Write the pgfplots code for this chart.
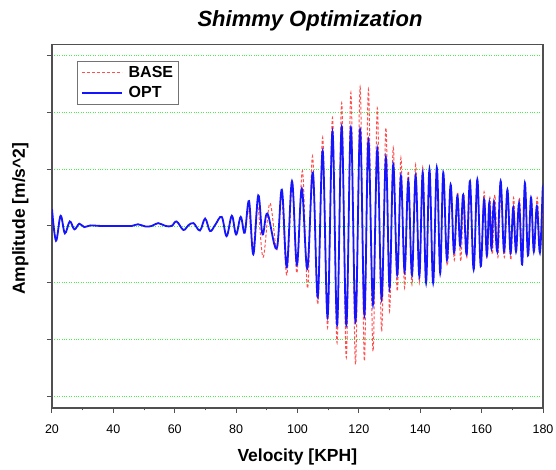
\documentclass[border=0pt]{standalone}
\usepackage{fontspec}
\setmainfont{Liberation Sans}
\usepackage{pgfplots}
\pgfplotsset{compat=1.18}
\definecolor{optblue}{RGB}{20,20,255}
\definecolor{basered}{RGB}{255,80,80}
\definecolor{gridgreen}{RGB}{70,240,70}
\definecolor{framegray}{RGB}{80,80,80}
\begin{document}
\begin{tikzpicture}
\useasboundingbox (-52pt,-62pt) rectangle (504pt,408pt);
\begin{axis}[
  scale only axis, width=491pt, height=363.5pt,
  at={(0pt,0pt)}, anchor=south west,
  xmin=20, xmax=180, ymin=-3.21, ymax=3.2,
  xtick={20,40,...,180}, minor x tick num=1,
  ytick={-3,-2,...,3}, yticklabels={},
  xtick pos=left, ytick pos=left,
  tick align=outside, major tick length=5pt, minor tick length=2.5pt,
  axis line style={framegray, line width=1.3pt},
  every tick/.style={framegray, line width=1pt},
  ymajorgrids, major grid style={gridgreen, dotted, line width=0.9pt},
  /pgf/number format/assume math mode=true,
  xticklabel style={anchor=base, yshift=-20.7pt, font=\fontsize{12.5}{14}\selectfont},
  every axis title shift=0pt,
  title={Shimmy Optimization},
  title style={at={(axis description cs:0.5255,1.0495)}, anchor=base, font=\bfseries\itshape\fontsize{22}{24}\selectfont},
  xlabel={Velocity [KPH]},
  xlabel style={at={(axis description cs:0.4996,-0.1477)}, anchor=base, font=\bfseries\fontsize{17.5}{20}\selectfont},
  ylabel={Amplitude [m/s\textasciicircum 2]},
  ylabel style={at={(axis description cs:-0.0550,0.5208)}, anchor=base, font=\bfseries\fontsize{17.5}{20}\selectfont},
  legend style={at={(0.0515,0.955)}, anchor=north west, draw=framegray!80, line width=1.2pt, fill=white,
    font=\bfseries\fontsize{16}{18}\selectfont, inner xsep=3pt, inner ysep=3pt, row sep=3.5pt, column sep=4pt},
  legend cell align=left,
  legend image code/.code={\draw[#1] (0pt,0pt) -- (40pt,0pt);},
]
% BASE
\addplot[basered, line width=1pt, dash pattern=on 3pt off 2pt, smooth, tension=0.6, forget plot] coordinates {
(20,0.30) (21.3,-0.26) (22.8,0.18) (24.2,-0.13) (25.8,0.08) (27.3,-0.06) (28.9,0.04) (30.5,-0.02)
(32.5,0.01) (36,0) (42,0) (46,0) (48,0.03) (50.5,-0.01) (52.5,0) (54.6,0.05) (57,0) (59,0)
(60.6,0.08) (62.8,-0.07) (64.4,0.01) (66.1,0.05) (68.2,-0.08) (69.9,0.13) (71.5,-0.09) (73.2,0.02)
(75.3,0.16) (76.9,-0.18) (78.6,0.18) (80.0,-0.15) (81.5,0.16) (82.8,-0.12)
(84.0,0.30) (85.5,-0.38) (87.0,0.35) (88.8,-0.55) (91.0,0.40) (93.3,-0.42) (94.8,0.55) (96.5,-0.86)
(98.3,0.75) (99.8,-0.83) (101.6,0.97) (103.3,-1.10) (104.9,1.23) (106.6,-1.38) (108.2,1.56) (109.8,-1.79)
(111.4,1.91) (112.9,-2.06) (114.4,2.17) (115.9,-2.32) (117.4,2.35) (118.9,-2.44) (120.4,2.45) (121.8,-2.38)
(123.1,2.41) (124.6,-2.21) (126.0,2.08) (127.4,-1.86) (128.8,1.73) (130.0,-1.50) (131.2,1.38) (132.5,-1.15)
(133.7,1.20) (134.9,-1.09) (136.1,0.97) (137.3,-1.03) (138.5,1.08) (139.7,-1.00) (140.8,1.03) (141.9,-0.86)
(143.0,0.90) (144.2,-0.90) (145.4,0.85) (146.5,-0.75) (147.6,0.80) (148.8,-0.70) (150.0,0.65) (151.1,-0.60)
(152.2,0.60) (153.2,-0.62) (154.2,0.55) (155.2,-0.55) (156.3,0.60) (157.4,-0.60) (158.6,0.65) (159.7,-0.65)
(160.8,0.60) (161.8,-0.55) (162.7,0.50) (163.5,-0.50) (164.3,0.55) (165.3,-0.55) (166.3,0.60) (167.4,-0.55)
(168.5,0.55) (169.5,-0.60) (170.4,0.50) (171.3,-0.45) (172.3,0.50) (173.3,-0.55) (174.2,0.60) (175.2,-0.50)
(176.2,0.45) (177.1,-0.45) (178.1,0.50) (179.1,-0.40) (180,0.45)
};
% OPT
\addplot[optblue, line width=1.8pt, smooth, tension=0.6, forget plot] coordinates {
(20,0.30) (21.3,-0.26) (22.8,0.18) (24.2,-0.13) (25.8,0.08) (27.3,-0.06) (28.9,0.04) (30.5,-0.02)
(32.5,0.01) (36,0) (42,0) (46,0) (48,0.03) (50.5,-0.01) (52.5,0) (54.6,0.05) (57,0) (59,0)
(60.6,0.08) (62.8,-0.07) (64.4,0.01) (66.1,0.05) (68.2,-0.08) (69.9,0.13) (71.5,-0.09) (73.2,0.02)
(75.3,0.16) (76.9,-0.18) (78.6,0.18) (80.0,-0.15) (81.5,0.16) (82.8,-0.12)
(84.2,0.44) (85.6,-0.50) (87.2,0.54) (88.6,-0.15) (90.2,0.22) (93.2,-0.40) (94.9,0.64) (96.5,-0.72)
(98.2,0.79) (99.8,-0.68) (101.4,0.66) (103.2,-0.75) (105.0,0.94) (106.6,-1.25) (108.2,1.32) (109.8,-1.60)
(111.4,1.66) (112.9,-1.74) (114.4,1.75) (115.9,-1.74) (117.4,1.73) (118.9,-1.68) (120.4,1.70) (121.8,-1.56)
(123.1,1.50) (124.6,-1.38) (126.0,1.35) (127.4,-1.27) (128.8,1.20) (130.0,-1.09) (131.2,1.08) (132.5,-0.86)
(133.7,0.88) (134.9,-0.80) (136.1,0.80) (137.3,-0.86) (138.5,0.88) (139.7,-0.88) (140.8,0.94) (141.9,-1.00)
(143.0,1.00) (144.2,-1.00) (145.4,1.03) (146.5,-0.83) (147.5,0.94) (148.7,-0.60) (149.9,0.73) (151.0,-0.47)
(152.1,0.53) (153.0,-0.35) (154.0,0.55) (155.1,-0.50) (156.2,0.79) (157.4,-0.77) (158.6,0.82) (159.7,-0.71)
(160.8,0.47) (161.7,-0.52) (162.5,0.41) (163.2,-0.40) (164.0,0.42) (165.1,-0.45) (166.2,0.79) (167.3,-0.45)
(168.4,0.64) (169.4,-0.47) (170.3,0.32) (171.2,-0.45) (172.2,0.40) (173.2,-0.68) (174.1,0.76) (175.1,-0.52)
(176.1,0.50) (177.0,-0.45) (178.0,0.35) (179.0,-0.47) (179.9,0.64) (180,0.50)
};
\addlegendimage{basered, line width=1pt, dash pattern=on 3pt off 2pt}
\addlegendentry{BASE}
\addlegendimage{optblue, line width=1.8pt}
\addlegendentry{OPT}
\end{axis}
\end{tikzpicture}
\end{document}
